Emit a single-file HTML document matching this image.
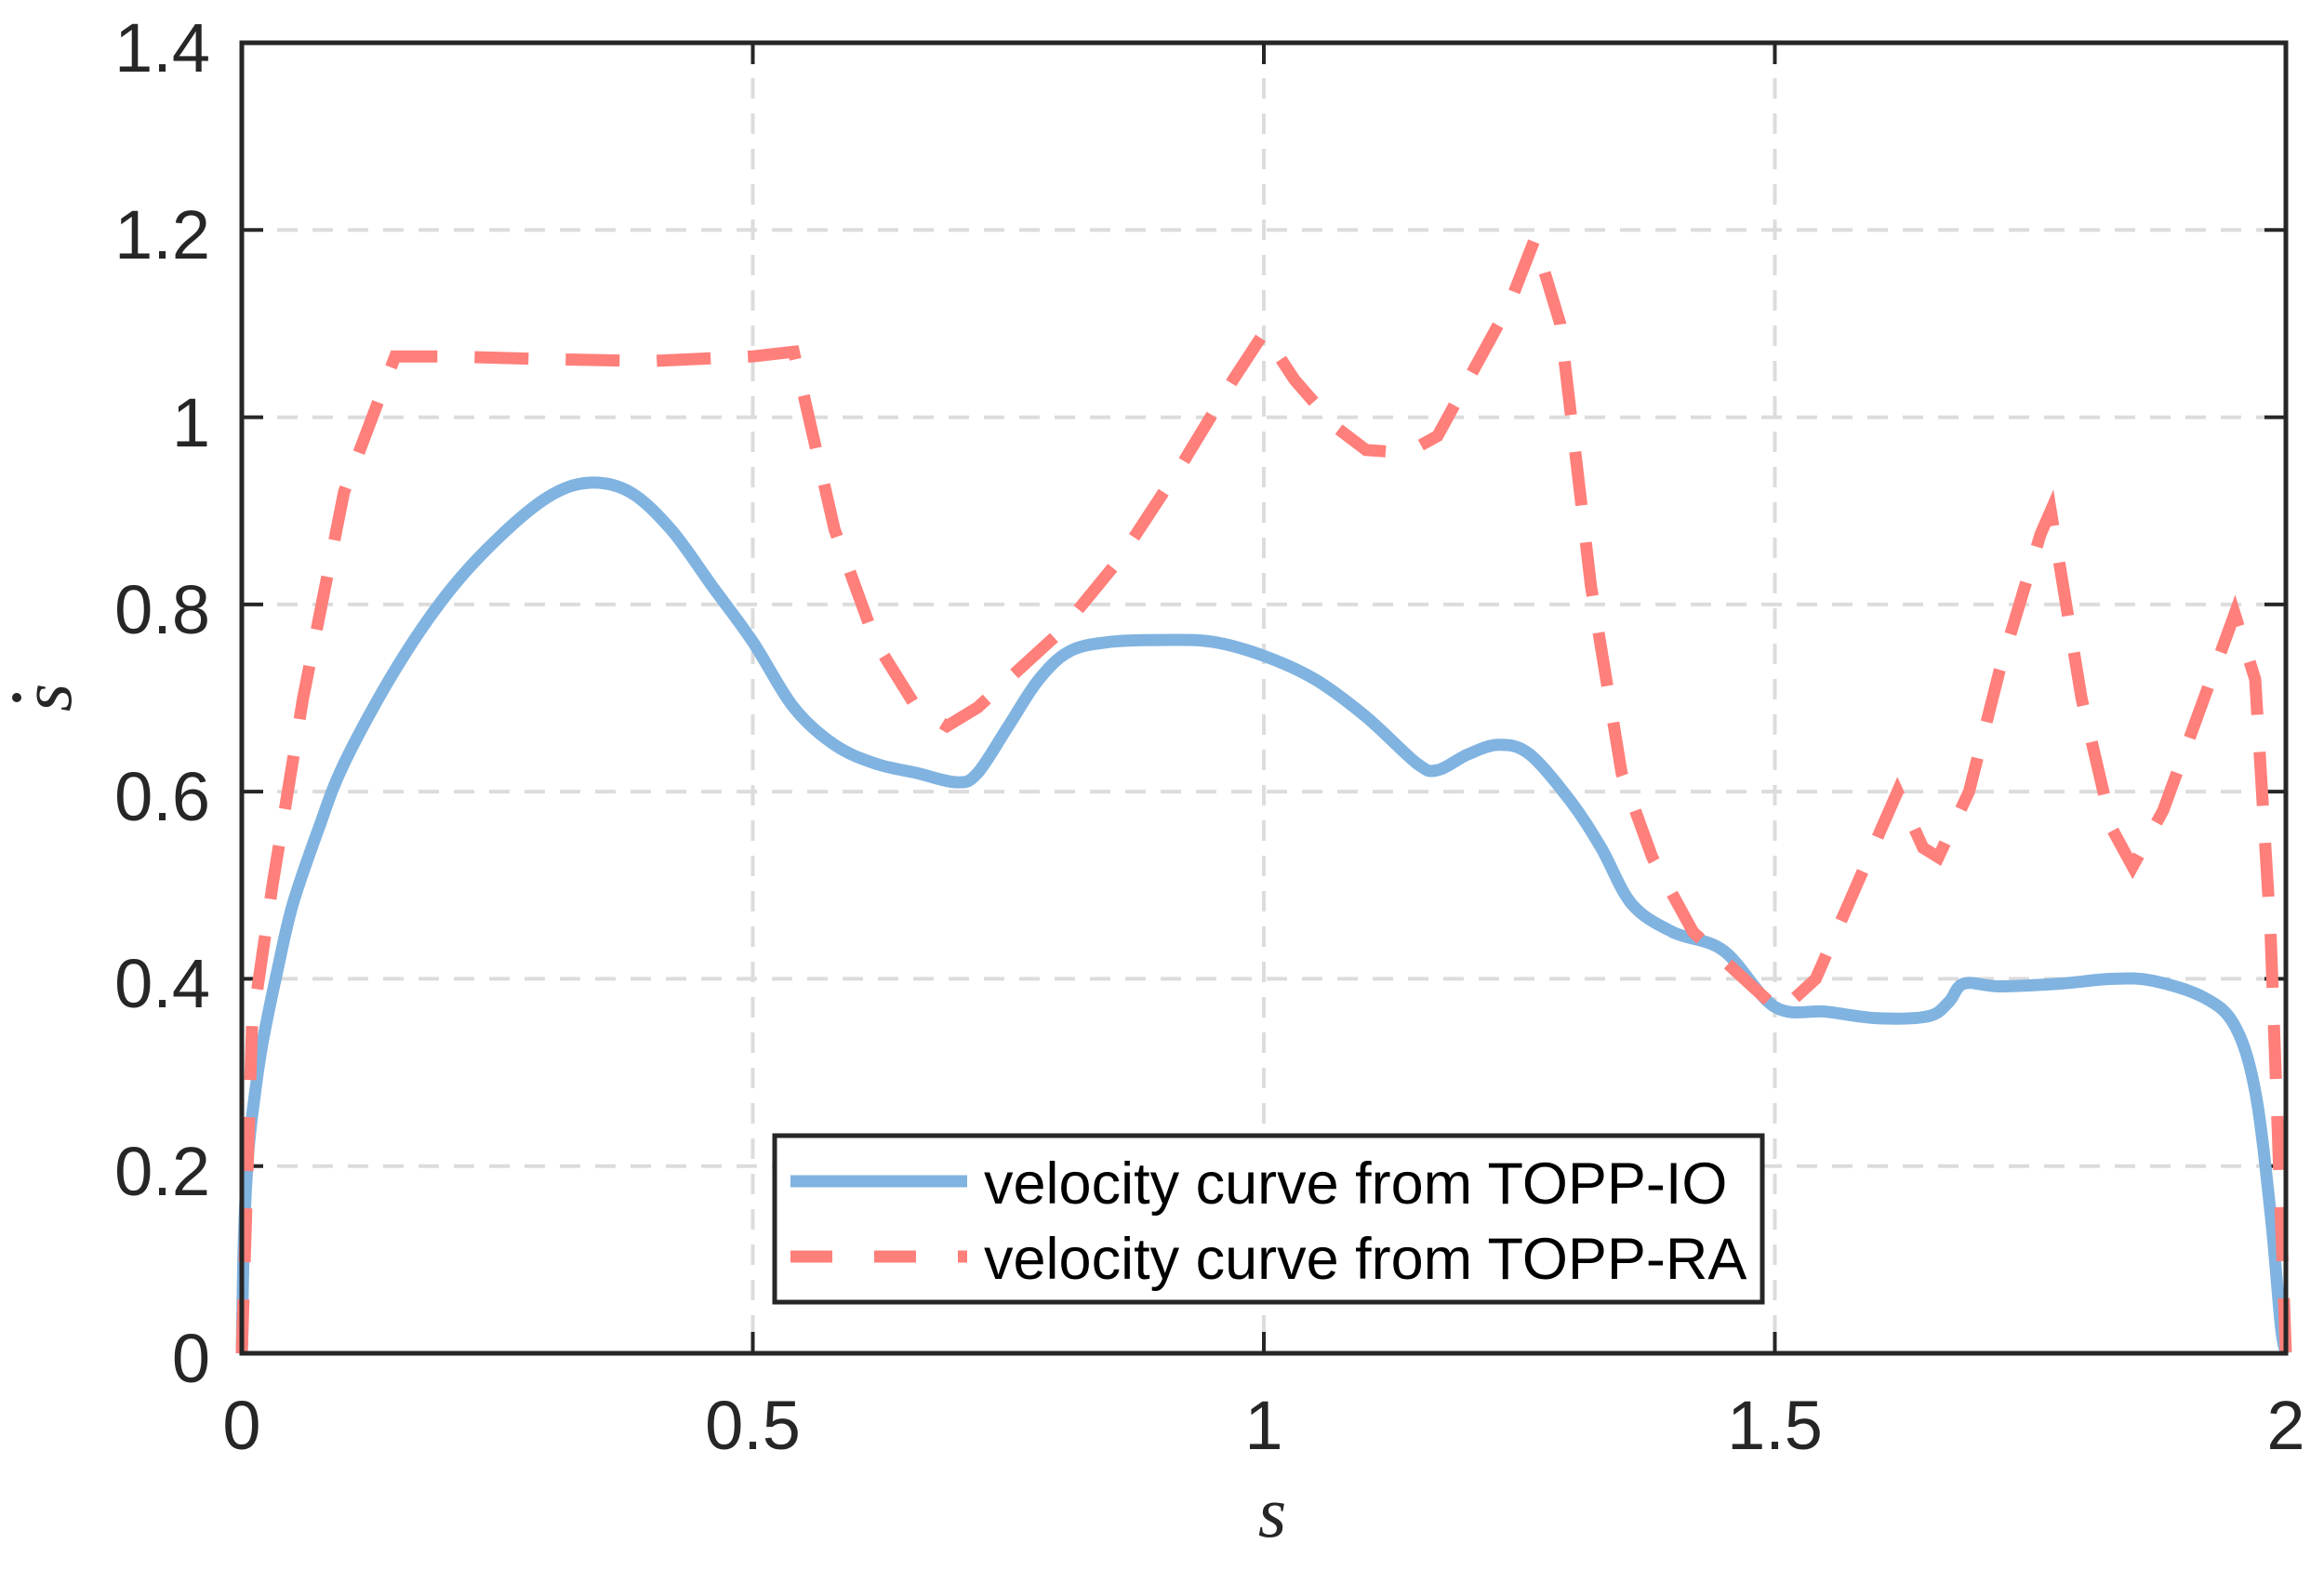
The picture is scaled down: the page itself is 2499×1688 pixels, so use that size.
<!DOCTYPE html>
<html><head><meta charset="utf-8"><style>
html,body{margin:0;padding:0;background:#fff;}
svg{display:block}
text{font-family:"Liberation Sans",Arial,sans-serif;fill:#262626}
</style></head><body>
<svg id="s" width="2499" height="1688" viewBox="0 0 2499 1688" xmlns="http://www.w3.org/2000/svg">
<rect width="2499" height="1688" fill="#fff"/>
<g stroke="#dcdcdc" stroke-width="4" stroke-dasharray="22 16" fill="none">
<line x1="809.5" y1="46" x2="809.5" y2="1455"/>
<line x1="1359" y1="46" x2="1359" y2="1455"/>
<line x1="1908.5" y1="46" x2="1908.5" y2="1455"/>
<line x1="260" y1="1253.7" x2="2458" y2="1253.7"/>
<line x1="260" y1="1052.4" x2="2458" y2="1052.4"/>
<line x1="260" y1="851.1" x2="2458" y2="851.1"/>
<line x1="260" y1="649.9" x2="2458" y2="649.9"/>
<line x1="260" y1="448.6" x2="2458" y2="448.6"/>
<line x1="260" y1="247.3" x2="2458" y2="247.3"/>
</g>
<g stroke="#262626" stroke-width="4">
<line x1="809.5" y1="1455" x2="809.5" y2="1432"/><line x1="1359" y1="1455" x2="1359" y2="1432"/><line x1="1908.5" y1="1455" x2="1908.5" y2="1432"/>
<line x1="809.5" y1="46" x2="809.5" y2="69"/><line x1="1359" y1="46" x2="1359" y2="69"/><line x1="1908.5" y1="46" x2="1908.5" y2="69"/>
<line x1="260" y1="1253.7" x2="283" y2="1253.7"/><line x1="260" y1="1052.4" x2="283" y2="1052.4"/><line x1="260" y1="851.1" x2="283" y2="851.1"/><line x1="260" y1="649.9" x2="283" y2="649.9"/><line x1="260" y1="448.6" x2="283" y2="448.6"/><line x1="260" y1="247.3" x2="283" y2="247.3"/>
<line x1="2458" y1="1253.7" x2="2435" y2="1253.7"/><line x1="2458" y1="1052.4" x2="2435" y2="1052.4"/><line x1="2458" y1="851.1" x2="2435" y2="851.1"/><line x1="2458" y1="649.9" x2="2435" y2="649.9"/><line x1="2458" y1="448.6" x2="2435" y2="448.6"/><line x1="2458" y1="247.3" x2="2435" y2="247.3"/>
</g>
<path id="blue" fill="none" stroke="#80b3e0" stroke-width="13" stroke-linejoin="round"/>
<path id="red" fill="none" stroke="#ff7f7a" stroke-width="13" stroke-dasharray="58 40"/>
<rect x="260" y="46" width="2198" height="1409" fill="none" stroke="#262626" stroke-width="5"/>
<g font-size="74" text-anchor="end">
<text x="226" y="1486">0</text><text x="226" y="1285">0.2</text><text x="226" y="1083">0.4</text><text x="226" y="882">0.6</text><text x="226" y="681">0.8</text><text x="226" y="480">1</text><text x="226" y="278">1.2</text><text x="226" y="77">1.4</text>
</g>
<g font-size="74" text-anchor="middle">
<text x="260" y="1558">0</text><text x="809.5" y="1558">0.5</text><text x="1359" y="1558">1</text><text x="1908.5" y="1558">1.5</text><text x="2458" y="1558">2</text>
</g>
<text x="1368" y="1652" font-size="78" font-style="italic" text-anchor="middle" style="font-family:'Liberation Serif',serif">s</text>
<g transform="translate(76,750) rotate(-90)"><text x="0" y="0" font-size="78" font-style="italic" text-anchor="middle" style="font-family:'Liberation Serif',serif">s</text><circle cx="0" cy="-58" r="5" fill="#262626"/></g>
<rect x="833" y="1221" width="1062" height="179" fill="#fff" stroke="#262626" stroke-width="5"/>
<line x1="850" y1="1270" x2="1040" y2="1270" stroke="#80b3e0" stroke-width="13"/>
<line x1="850" y1="1351" x2="1040" y2="1351" stroke="#ff7f7a" stroke-width="13" stroke-dasharray="45 45"/>
<text x="1058" y="1294" font-size="63" style="fill:#000">velocity curve from TOPP-IO</text>
<text x="1058" y="1375" font-size="63" style="fill:#000">velocity curve from TOPP-RA</text>
</svg>
<script>
function X(s){return 260+s*1099}function Y(v){return 1455-v*1006.4}
var b=[[0,0],[0.002,0.12],[0.006,0.21],[0.012,0.27],[0.02,0.33],[0.035,0.41],[0.05,0.48],[0.075,0.56],[0.1,0.63],[0.15,0.73],[0.2,0.81],[0.25,0.87],[0.3,0.915],[0.34,0.93],[0.38,0.92],[0.42,0.88],[0.46,0.82],[0.5,0.76],[0.54,0.69],[0.58,0.65],[0.62,0.63],[0.66,0.62],[0.7,0.61],[0.72,0.62],[0.75,0.67],[0.78,0.72],[0.81,0.75],[0.85,0.76],[0.9,0.762],[0.95,0.76],[1.0,0.745],[1.05,0.72],[1.1,0.68],[1.15,0.63],[1.17,0.623],[1.2,0.64],[1.23,0.65],[1.26,0.64],[1.3,0.59],[1.33,0.54],[1.36,0.48],[1.4,0.45],[1.45,0.43],[1.5,0.37],[1.55,0.365],[1.6,0.358],[1.65,0.36],[1.67,0.375],[1.685,0.395],[1.72,0.392],[1.78,0.395],[1.83,0.4],[1.87,0.398],[1.92,0.38],[1.95,0.35],[1.97,0.28],[1.985,0.15],[1.995,0.03],[2,0]];
var r=[[0,0],[0.01,0.35],[0.03,0.5],[0.06,0.7],[0.1,0.92],[0.15,1.065],[0.2,1.065],[0.3,1.062],[0.4,1.06],[0.5,1.065],[0.54,1.07],[0.58,0.88],[0.62,0.76],[0.66,0.69],[0.69,0.67],[0.72,0.69],[0.76,0.73],[0.8,0.77],[0.86,0.85],[0.92,0.95],[0.97,1.04],[1.0,1.09],[1.03,1.04],[1.07,0.99],[1.1,0.965],[1.14,0.962],[1.17,0.98],[1.2,1.04],[1.24,1.12],[1.265,1.19],[1.29,1.1],[1.32,0.82],[1.35,0.62],[1.38,0.53],[1.42,0.45],[1.47,0.4],[1.505,0.365],[1.54,0.4],[1.58,0.5],[1.62,0.6],[1.645,0.54],[1.66,0.53],[1.69,0.6],[1.72,0.73],[1.76,0.875],[1.77,0.9],[1.8,0.7],[1.83,0.56],[1.85,0.52],[1.88,0.58],[1.92,0.7],[1.95,0.79],[1.97,0.72],[1.985,0.45],[1.995,0.15],[2,0]];
function lin(a){return a.map(function(p,i){return(i?"L":"M")+X(p[0]).toFixed(1)+" "+Y(p[1]).toFixed(1)}).join(" ")}
function smooth(a){var P=a.map(function(p){return[X(p[0]),Y(p[1])]});var s="M"+P[0][0].toFixed(1)+" "+P[0][1].toFixed(1);
for(var i=0;i<P.length-1;i++){var p0=P[Math.max(0,i-1)],p1=P[i],p2=P[i+1],p3=P[Math.min(P.length-1,i+2)];
var c1=[p1[0]+(p2[0]-p0[0])/6,p1[1]+(p2[1]-p0[1])/6],c2=[p2[0]-(p3[0]-p1[0])/6,p2[1]-(p3[1]-p1[1])/6];
s+=" C"+c1[0].toFixed(1)+" "+c1[1].toFixed(1)+" "+c2[0].toFixed(1)+" "+c2[1].toFixed(1)+" "+p2[0].toFixed(1)+" "+p2[1].toFixed(1);}return s}
document.getElementById("blue").setAttribute("d",smooth(b));
document.getElementById("red").setAttribute("d",lin(r));
</script>
</body></html>
